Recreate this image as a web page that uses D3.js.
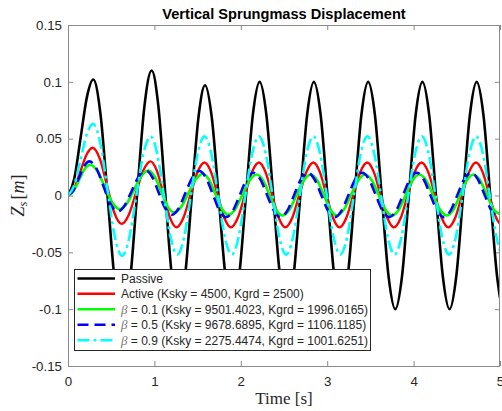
<!DOCTYPE html>
<html>
<head>
<meta charset="utf-8">
<script src="https://cdn.jsdelivr.net/npm/d3@7"></script>
<style>
  html, body { margin: 0; padding: 0; background: #fff; }
  svg { display: block; }
</style>
</head>
<body>
<svg id="chart" width="502" height="411"></svg>
<script>
// ---------- data ----------
const chartTitle = "Vertical Sprungmass Displacement";
const xTicks = [0, 1, 2, 3, 4, 5];
const xTickLabels = ["0", "1", "2", "3", "4", "5"];
const yTicks = [-0.15, -0.1, -0.05, 0, 0.05, 0.1, 0.15];
const yTickLabels = ["-0.15", "-0.1", "-0.05", "0", "0.05", "0.1", "0.15"];

// [time (s), Zs (m)]
const passive = [
[0,0],[0.073,0.0149],[0.1465,0.051],[0.22,0.087],[0.293,0.102],
[0.377,0.071],[0.4615,-0.004],[0.546,-0.079],[0.63,-0.11],
[0.7145,-0.0778],[0.799,0],[0.8835,0.0778],[0.968,0.11],
[1.045,0.0792],[1.1225,0.005],[1.2,-0.0692],[1.277,-0.1],
[1.354,-0.0711],[1.4315,-0.0015],[1.509,0.0681],[1.586,0.097],
[1.665,0.0681],[1.744,-0.0015],[1.823,-0.0711],[1.902,-0.1],
[1.981,-0.0707],[2.06,0],[2.139,0.0707],[2.218,0.1],
[2.2965,0.0707],[2.375,0],[2.4535,-0.0707],[2.532,-0.1],
[2.6105,-0.0707],[2.689,0],[2.7675,0.0707],[2.846,0.1],
[2.9245,0.0707],[3.003,0],[3.0815,-0.0707],[3.16,-0.1],
[3.2385,-0.0707],[3.317,0],[3.3955,0.0707],[3.474,0.1],
[3.5525,0.0707],[3.631,0],[3.7095,-0.0707],[3.788,-0.1],
[3.8665,-0.0707],[3.945,0],[4.0235,0.0707],[4.102,0.1],
[4.1805,0.0707],[4.259,0],[4.3375,-0.0707],[4.416,-0.1],
[4.4945,-0.0707],[4.573,0],[4.6515,0.0707],[4.73,0.1],
[4.8085,0.0707],[4.887,0],[4.9655,-0.0707],[5,-0.09]
];
const active = [
[0,0],[0.071,0.0062],[0.1425,0.021],[0.214,0.0358],[0.285,0.042],
[0.369,0.0322],[0.4525,0.0085],[0.536,-0.0152],[0.62,-0.025],
[0.704,-0.0169],[0.7875,0.0025],[0.871,0.0219],[0.955,0.03],
[1.03,0.0215],[1.105,0.001],[1.18,-0.0195],[1.255,-0.028],
[1.336,-0.0196],[1.4175,0.0005],[1.499,0.0206],[1.58,0.029],
[1.656,0.0206],[1.7325,0.0005],[1.809,-0.0196],[1.885,-0.028],
[1.966,-0.0196],[2.0475,0.0005],[2.129,0.0206],[2.21,0.029],
[2.286,0.0206],[2.3625,0.0005],[2.439,-0.0196],[2.515,-0.028],
[2.596,-0.0196],[2.6775,0.0005],[2.759,0.0206],[2.84,0.029],
[2.9155,0.0206],[2.991,0.0005],[3.0665,-0.0196],[3.142,-0.028],
[3.222,-0.0196],[3.3025,0.0005],[3.383,0.0206],[3.463,0.029],
[3.54,0.0206],[3.6175,0.0005],[3.695,-0.0196],[3.772,-0.028],
[3.852,-0.0196],[3.932,0.0005],[4.012,0.0206],[4.092,0.029],
[4.1695,0.0206],[4.247,0.0005],[4.3245,-0.0196],[4.402,-0.028],
[4.482,-0.0196],[4.562,0.0005],[4.642,0.0206],[4.722,0.029],
[4.7995,0.0206],[4.877,0.0005],[4.9545,-0.0196],[5,-0.025]
];
const beta01 = [
[0,0],[0.064,0.004],[0.1275,0.0135],[0.191,0.023],[0.255,0.027],
[0.341,0.0213],[0.4275,0.0075],[0.514,-0.0063],[0.6,-0.012],
[0.6825,-0.007],[0.765,0.005],[0.8475,0.017],[0.93,0.022],
[1.004,0.0166],[1.0785,0.0035],[1.153,-0.0096],[1.227,-0.015],
[1.31,-0.01],[1.3935,0.002],[1.477,0.014],[1.56,0.019],
[1.634,0.0137],[1.7075,0.001],[1.781,-0.0117],[1.855,-0.017],
[1.937,-0.0118],[2.0195,0.0008],[2.102,0.0133],[2.184,0.0185],
[2.2585,0.0132],[2.333,0.0005],[2.4075,-0.0123],[2.482,-0.0176],
[2.564,-0.0123],[2.646,0.0005],[2.728,0.0132],[2.81,0.0185],
[2.8855,0.0132],[2.961,0.0005],[3.0365,-0.0123],[3.112,-0.0176],
[3.194,-0.0123],[3.276,0.0005],[3.358,0.0132],[3.44,0.0185],
[3.518,0.0132],[3.596,0.0005],[3.674,-0.0123],[3.752,-0.0176],
[3.8305,-0.0123],[3.909,0.0005],[3.9875,0.0132],[4.066,0.0185],
[4.146,0.0132],[4.2255,0.0005],[4.305,-0.0123],[4.385,-0.0176],
[4.462,-0.0123],[4.5385,0.0005],[4.615,0.0132],[4.692,0.0185],
[4.7705,0.0132],[4.849,0.0005],[4.9275,-0.0123],[5,-0.0165]
];
const beta05 = [
[0,0],[0.062,0.0044],[0.124,0.015],[0.186,0.0256],[0.248,0.03],
[0.33,0.0236],[0.4115,0.008],[0.493,-0.0076],[0.575,-0.014],
[0.656,-0.0087],[0.7375,0.004],[0.819,0.0167],[0.9,0.022],
[0.975,0.0163],[1.05,0.0025],[1.125,-0.0113],[1.2,-0.017],
[1.28,-0.0114],[1.36,0.0023],[1.44,0.0159],[1.52,0.0215],
[1.5975,0.0156],[1.675,0.0013],[1.7525,-0.0131],[1.83,-0.019],
[1.9095,-0.0133],[1.989,0.0005],[2.0685,0.0143],[2.148,0.02],
[2.226,0.0143],[2.304,0.0005],[2.382,-0.0133],[2.46,-0.019],
[2.5385,-0.0133],[2.6175,0.0005],[2.696,0.0143],[2.775,0.02],
[2.853,0.0143],[2.9315,0.0005],[3.0095,-0.0133],[3.088,-0.019],
[3.167,-0.0133],[3.2465,0.0005],[3.326,0.0143],[3.405,0.02],
[3.483,0.0143],[3.5615,0.0005],[3.64,-0.0133],[3.718,-0.019],
[3.798,-0.0133],[3.878,0.0005],[3.958,0.0143],[4.038,0.02],
[4.116,0.0143],[4.194,0.0005],[4.272,-0.0133],[4.35,-0.019],
[4.4285,-0.0133],[4.5075,0.0005],[4.586,0.0143],[4.665,0.02],
[4.7435,0.0143],[4.8225,0.0005],[4.901,-0.0133],[4.98,-0.019],[5,-0.0188]
];
const beta09 = [
[0,0],[0.0725,0.0092],[0.145,0.0315],[0.2175,0.0538],[0.29,0.063],
[0.374,0.046],[0.4575,0.005],[0.541,-0.036],[0.625,-0.053],
[0.7075,-0.0376],[0.79,-0.0005],[0.8725,0.0366],[0.955,0.052],
[1.0325,0.0368],[1.11,0],[1.1875,-0.0368],[1.265,-0.052],
[1.344,-0.0368],[1.4225,0],[1.501,0.0368],[1.58,0.052],
[1.659,0.0368],[1.7375,0],[1.816,-0.0368],[1.895,-0.052],
[1.974,-0.0368],[2.0525,0],[2.131,0.0368],[2.21,0.052],
[2.289,0.0368],[2.3675,0],[2.446,-0.0368],[2.525,-0.052],
[2.604,-0.0368],[2.6825,0],[2.761,0.0368],[2.84,0.052],
[2.918,0.0368],[2.996,0],[3.074,-0.0368],[3.152,-0.052],
[3.2305,-0.0368],[3.309,0],[3.3875,0.0368],[3.466,0.052],
[3.5445,0.0368],[3.623,0],[3.7015,-0.0368],[3.78,-0.052],
[3.859,-0.0368],[3.938,0],[4.017,0.0368],[4.096,0.052],
[4.1745,0.0368],[4.253,0],[4.3315,-0.0368],[4.41,-0.052],
[4.4885,-0.0368],[4.567,0],[4.6455,0.0368],[4.724,0.052],
[4.8025,0.0368],[4.881,0],[4.9595,-0.0368],[5,-0.049]
];

const seriesNames = ["Passive", "Active", "beta01", "beta05", "beta09"];
const legendBeta = ["", "", "0.1", "0.5", "0.9"];
const legendTexts = [
  "Passive",
  "Active (Ksky = 4500, Kgrd = 2500)",
  " = 0.1 (Ksky = 9501.4023, Kgrd = 1996.0165)",
  " = 0.5 (Ksky = 9678.6895, Kgrd = 1106.1185)",
  " = 0.9 (Ksky = 2275.4474, Kgrd = 1001.6251)"
];

// ---------- styling ----------
const seriesData = [passive, active, beta01, beta05, beta09];
const colors = ["#000000", "#ff0000", "#00ff00", "#0000ff", "#00ffff"];
const dashes = [null, null, null, "11,6", "12,4,3,4"];
const widths = [2.6, 2.4, 2.6, 2.6, 2.6];

const W = 502, H = 411;
const m = { left: 68, right: 500, top: 25, bottom: 366 };
const svg = d3.select("#chart");

const x = d3.scaleLinear().domain([0, 5]).range([m.left, m.right]);
const y = d3.scaleLinear().domain([-0.15, 0.15]).range([m.bottom, m.top]);

const sans = "'Liberation Sans', Arial, Helvetica, sans-serif";
const serif = "'Liberation Serif', 'Times New Roman', serif";
const axisColor = "#8a8a8a";
const textColor = "#262626";

svg.append("rect").attr("width", W).attr("height", H).attr("fill", "#fff");

svg.append("defs").append("clipPath").attr("id", "plotclip")
  .append("rect").attr("x", m.left).attr("y", m.top)
  .attr("width", m.right - m.left).attr("height", m.bottom - m.top);

// axes
function styleAxis(g) {
  g.select(".domain").remove();
  g.selectAll(".tick line").attr("stroke", axisColor);
  g.selectAll(".tick text").attr("fill", textColor)
    .style("font-family", sans).style("font-size", "13.3px");
}
svg.append("g").attr("transform", `translate(0,${m.bottom})`)
  .call(d3.axisBottom(x).tickValues(xTicks).tickFormat((d, i) => xTickLabels[i])
    .tickSizeInner(-5).tickSizeOuter(0).tickPadding(10.5))
  .call(styleAxis);
svg.append("g").attr("transform", `translate(0,${m.top})`)
  .call(d3.axisTop(x).tickValues(xTicks).tickFormat("")
    .tickSizeInner(-5).tickSizeOuter(0))
  .call(styleAxis);
svg.append("g").attr("transform", `translate(${m.left},0)`)
  .call(d3.axisLeft(y).tickValues(yTicks).tickFormat((d, i) => yTickLabels[i])
    .tickSizeInner(-5).tickSizeOuter(0).tickPadding(6))
  .call(styleAxis);
svg.append("g").attr("transform", `translate(${m.right},0)`)
  .call(d3.axisRight(y).tickValues(yTicks).tickFormat("")
    .tickSizeInner(-5).tickSizeOuter(0))
  .call(styleAxis);

// lines
const line = d3.line().x(d => x(d[0])).y(d => y(d[1])).curve(d3.curveMonotoneX);
const lg = svg.append("g").attr("clip-path", "url(#plotclip)");
seriesData.forEach((s, i) => {
  lg.append("path").datum(s).attr("d", line)
    .attr("fill", "none").attr("stroke", colors[i])
    .attr("stroke-width", widths[i])
    .attr("stroke-linejoin", "round")
    .attr("stroke-dasharray", dashes[i]);
});

// frame
svg.append("rect").attr("x", m.left + 0.5).attr("y", m.top + 0.5)
  .attr("width", m.right - m.left - 1).attr("height", m.bottom - m.top)
  .attr("fill", "none").attr("stroke", axisColor).attr("stroke-width", 1);

// title
svg.append("text").attr("x", (m.left + m.right) / 2).attr("y", 18.5)
  .attr("text-anchor", "middle").attr("fill", "#000")
  .style("font-family", sans).style("font-size", "14.6px").style("font-weight", "bold")
  .text(chartTitle);

// x label
const xl = svg.append("text").attr("x", (m.left + m.right) / 2).attr("y", 404)
  .attr("text-anchor", "middle").attr("fill", textColor)
  .style("font-family", serif).style("font-size", "17px");
xl.text("Time [s]");

// y label
const yl = svg.append("text")
  .attr("transform", `translate(24,${(m.top + m.bottom) / 2}) rotate(-90)`)
  .attr("text-anchor", "middle").attr("fill", textColor)
  .style("font-family", serif).style("font-size", "18px");
yl.append("tspan").style("font-style", "italic").text("Z");
yl.append("tspan").style("font-style", "italic").style("font-size", "12.5px").attr("dy", 3).text("s");
yl.append("tspan").attr("dy", -3).attr("dx", 2).text("[");
yl.append("tspan").style("font-style", "italic").text("m");
yl.append("tspan").text("]");

// legend
const legX0 = 74.5, legY0 = 269.5, legW = 296, legH = 81;
const lgd = svg.append("g");
lgd.append("rect").attr("x", legX0).attr("y", legY0).attr("width", legW).attr("height", legH)
  .attr("fill", "#fff").attr("stroke", textColor).attr("stroke-width", 1);
const rowY = [278.5, 293.8, 309.3, 324.8, 340.2];
seriesNames.forEach((n, i) => {
  lgd.append("line").attr("x1", 77.5).attr("x2", 115).attr("y1", rowY[i]).attr("y2", rowY[i])
    .attr("stroke", colors[i]).attr("stroke-width", widths[i])
    .attr("stroke-dasharray", dashes[i]);
  const t = lgd.append("text").attr("x", 121).attr("y", rowY[i] + 4.3)
    .attr("fill", textColor).style("font-family", sans).style("font-size", "12px");
  if (legendBeta[i]) {
    t.append("tspan").style("font-family", serif).style("font-style", "italic")
      .style("font-size", "13px").attr("fill", "#777").text("\u03B2");
  }
  t.append("tspan").text(legendTexts[i]);
});
</script>
</body>
</html>
